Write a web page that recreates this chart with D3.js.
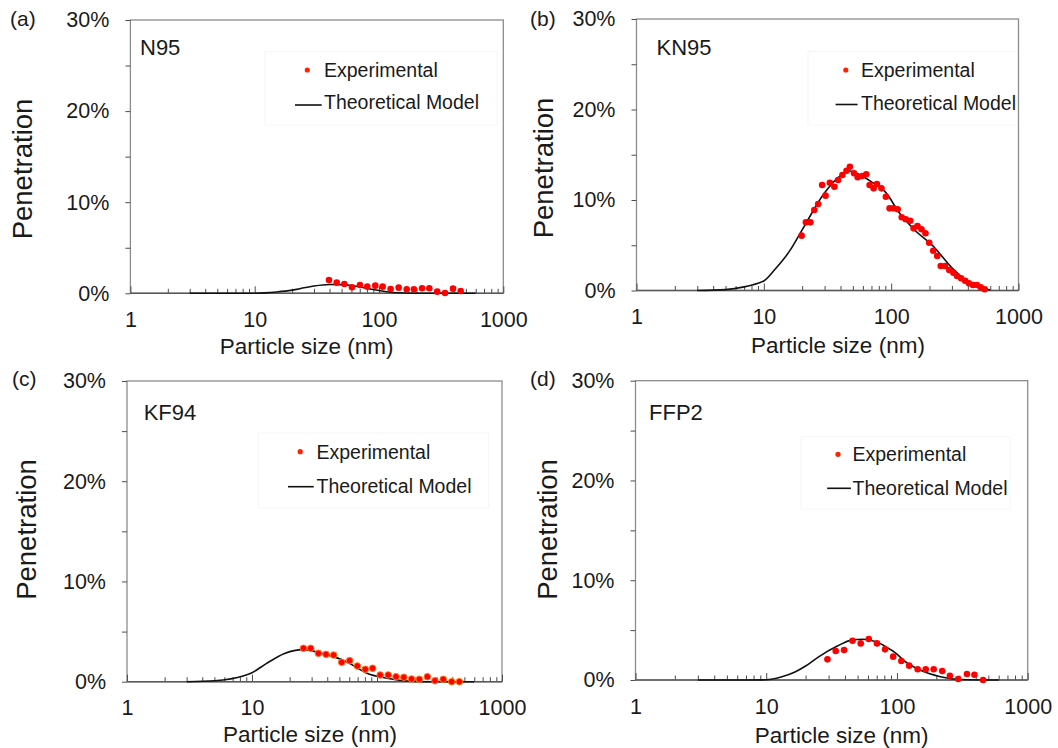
<!DOCTYPE html>
<html>
<head>
<meta charset="utf-8">
<script src="https://cdn.jsdelivr.net/npm/d3@7"></script>
<style>
  body { margin: 0; background: #fff; }
  text { font-family: "Liberation Sans", Arial, sans-serif; fill: #1a1a1a; }
</style>
</head>
<body>
<div id="chart"></div>
<script>
// ---- data ----
var panelLetters = ["(a)", "(b)", "(c)", "(d)"];
var maskNames = ["N95", "KN95", "KF94", "FFP2"];
var xTickValues = [1, 10, 100, 1000];
var xMinorValues = [2, 3, 4, 5, 6, 7, 8, 9, 20, 30, 40, 50, 60, 70, 80, 90, 200, 300, 400, 500, 600, 700, 800, 900];
var yTickValues = [0, 10, 20, 30];
var yMinorValues = [5, 15, 25];
var legendLabels = ["Experimental", "Theoretical Model"];

// N95
var n95ExpSize = [39.6, 45.7, 52.6, 60.6, 70.3, 80.5, 93.4, 107, 124, 144, 167, 191, 222, 254, 294, 340, 394, 454];
var n95ExpPen = [1.46, 1.17, 1.02, 0.66, 0.91, 0.73, 0.84, 0.73, 0.47, 0.62, 0.44, 0.44, 0.55, 0.55, 0.18, 0.04, 0.51, 0.26];
var n95ModelSize = [3, 5, 8, 10, 12, 15, 20, 25, 30, 40, 50, 60, 80, 100, 130, 200, 300, 600];
var n95ModelPen = [0, 0, 0, 0.01, 0.05, 0.15, 0.35, 0.6, 0.8, 0.97, 0.95, 0.85, 0.55, 0.3, 0.08, 0.01, 0, 0];

// KN95
var kn95ExpSize = [19.8, 21.4, 23.2, 24.9, 26.7, 28.7, 30.5, 33.0, 35.8, 38.3, 41.4, 44.6, 47.4, 51.1, 54.6, 59.1, 63.7, 67.7, 72.8, 77.4, 83.9, 90.9, 97.2, 104, 112.5, 121, 130, 141, 150, 161, 173, 186, 199, 214, 230, 245, 265, 286, 308, 329, 354, 381, 408, 439, 472, 505, 543];
var kn95ExpPen = [6.06, 7.53, 7.53, 8.90, 9.56, 11.66, 10.48, 11.91, 11.47, 12.21, 12.76, 13.24, 13.68, 12.95, 12.51, 12.65, 12.84, 11.66, 11.29, 11.77, 11.29, 10.36, 9.08, 9.08, 8.97, 8.09, 7.87, 7.71, 6.87, 7.13, 6.76, 6.32, 5.28, 4.40, 3.81, 2.71, 2.71, 2.27, 1.97, 1.60, 1.35, 1.08, 0.80, 0.61, 0.61, 0.35, 0.13];
var kn95ModelSize = [3, 5, 7, 9, 10, 12, 16, 20, 30, 40, 47, 60, 70, 90, 117, 150, 217, 300, 400, 500, 600];
var kn95ModelPen = [0, 0.1, 0.4, 0.8, 1.05, 2.2, 4.4, 6.7, 10.8, 12.7, 13.2, 12.6, 12.0, 10.9, 8.5, 6.8, 4.8, 2.5, 1.0, 0.35, 0.05];

// KF94
var kf94ExpSize = [25.8, 29.5, 34.0, 39.1, 45.0, 52.2, 60.4, 69.6, 80.6, 92.3, 106, 123, 142, 164, 189, 218, 253, 291, 339, 396, 456];
var kf94ExpPen = [3.33, 3.33, 2.83, 2.73, 2.66, 1.93, 2.10, 1.57, 1.24, 1.34, 0.67, 0.67, 0.50, 0.44, 0.27, 0.24, 0.50, 0.10, 0.24, 0, 0];
var kf94ModelSize = [3, 5, 8.5, 10, 13, 18, 26, 37, 57, 83, 120, 184, 300, 600];
var kf94ModelPen = [0, 0.1, 0.57, 0.9, 1.8, 2.8, 3.2, 2.8, 2.0, 0.85, 0.34, 0.05, 0, 0];

// FFP2
var ffp2ExpSize = [29.4, 34.0, 39.4, 45.7, 52.8, 60.9, 70.3, 81.1, 93.5, 108, 124, 144, 166, 191, 222, 254, 294, 343, 391, 456];
var ffp2ExpPen = [2.07, 2.91, 3.01, 3.94, 3.67, 4.11, 3.67, 3.07, 2.34, 1.90, 1.44, 1.07, 1.07, 1.07, 0.90, 0.43, 0.10, 0.60, 0.53, 0];
var ffp2ModelSize = [3, 7, 10, 13, 16.6, 20, 25, 35, 45, 55, 70, 83, 100, 112, 150, 215, 306, 600];
var ffp2ModelPen = [0, 0, 0.02, 0.3, 0.8, 1.4, 2.3, 3.4, 4.0, 4.08, 3.8, 3.3, 2.6, 2.0, 1.0, 0.33, 0.05, 0];

var expSizes = [n95ExpSize, kn95ExpSize, kf94ExpSize, ffp2ExpSize];
var expPens = [n95ExpPen, kn95ExpPen, kf94ExpPen, ffp2ExpPen];
var modelSizes = [n95ModelSize, kn95ModelSize, kf94ModelSize, ffp2ModelSize];
var modelPens = [n95ModelPen, kn95ModelPen, kf94ModelPen, ffp2ModelPen];

// ---- layout ----
var WIDTH = 1058, HEIGHT = 748;
var layout = [
  { l: 130.4, r: 503.3, t: 20, b: 293.3, letterX: 10, letterY: 26, nameX: 140, nameY: 55,
    yTitleX: 32, yTitleY: 169, xTitleX: 306.7, xTitleY: 354,
    dot: [307.3, 70], legX: 324, legY1: 77, legLine: [295, 321.7, 105], legY2: 109,
    box: [265, 51.7, 232, 73.3] },
  { l: 636.5, r: 1018.5, t: 19, b: 290.5, letterX: 530, letterY: 26, nameX: 656.5, nameY: 55,
    yTitleX: 553, yTitleY: 168, xTitleX: 838, xTitleY: 353,
    dot: [845.8, 70], legX: 861, legY1: 77, legLine: [835.6, 857.6, 104.5], legY2: 110,
    box: [808, 51.7, 210, 73.3] },
  { l: 127, r: 502, t: 381, b: 681.7, letterX: 12, letterY: 386, nameX: 143.7, nameY: 420,
    yTitleX: 35.5, yTitleY: 529.5, xTitleX: 310, xTitleY: 742,
    dot: [300.2, 451.7], legX: 316.5, legY1: 458.5, legLine: [288, 313.7, 486.7], legY2: 493,
    box: [258.6, 433, 230, 75] },
  { l: 635.5, r: 1027.7, t: 380.7, b: 680, letterX: 530, letterY: 386, nameX: 649, nameY: 420,
    yTitleX: 556.7, yTitleY: 529.5, xTitleX: 841.6, xTitleY: 742.5,
    dot: [838, 454.3], legX: 852.5, legY1: 461, legLine: [827.2, 850.9, 488.3], legY2: 494.5,
    box: [801, 436.7, 209, 72.3] }
];

var svg = d3.select("#chart").append("svg")
  .attr("width", WIDTH)
  .attr("height", HEIGHT);

svg.append("rect").attr("width", WIDTH).attr("height", HEIGHT).attr("fill", "#fff");

layout.forEach(function(p, i) {
  var x = d3.scaleLog().domain([1, 1000]).range([p.l, p.r]);
  var y = d3.scaleLinear().domain([0, 30]).range([p.b, p.t]);
  var g = svg.append("g").attr("class", "panel");

  // faint legend box
  g.append("rect")
    .attr("x", p.box[0]).attr("y", p.box[1])
    .attr("width", p.box[2]).attr("height", p.box[3])
    .attr("fill", "none").attr("stroke", "#f6f6f6").attr("stroke-width", 1);

  // frame
  g.append("rect")
    .attr("x", p.l).attr("y", p.t)
    .attr("width", p.r - p.l).attr("height", p.b - p.t)
    .attr("fill", "none").attr("stroke", "#8c8c8c").attr("stroke-width", 1.3);

  // y axis ticks + labels
  g.append("g")
    .attr("transform", "translate(" + p.l + ",0)")
    .call(d3.axisLeft(y).tickValues(yTickValues).tickSize(5).tickPadding(16)
      .tickFormat(function(d) { return d + "%"; }));
  g.append("g")
    .attr("transform", "translate(" + p.l + ",0)")
    .call(d3.axisLeft(y).tickValues(yMinorValues).tickSize(5).tickFormat(""));

  // x axis ticks (inward) + labels
  g.append("g")
    .attr("transform", "translate(0," + p.b + ")")
    .call(d3.axisBottom(x).tickValues(xTickValues).tickSize(-7).tickPadding(18.5)
      .tickFormat(d3.format("d")));
  g.append("g")
    .attr("transform", "translate(0," + p.b + ")")
    .call(d3.axisBottom(x).tickValues(xMinorValues).tickSize(-4.5).tickFormat(""));

  g.selectAll(".domain").remove();
  g.selectAll(".tick line").attr("stroke", "#4d4d4d").attr("stroke-width", 1);
  g.selectAll(".tick text")
    .style("font-family", "'Liberation Sans', Arial, sans-serif")
    .style("font-size", "21.5px").attr("fill", "#1a1a1a");

  // bottom axis line (darker)
  g.append("line")
    .attr("x1", p.l).attr("x2", p.r).attr("y1", p.b).attr("y2", p.b)
    .attr("stroke", "#595959").attr("stroke-width", 1.5);

  // model curve
  var model = modelSizes[i].map(function(d, k) { return [d, modelPens[i][k]]; });
  var line = d3.line()
    .x(function(d) { return x(d[0]); })
    .y(function(d) { return y(d[1]); })
    .curve(d3.curveMonotoneX);
  g.append("path")
    .datum(model)
    .attr("d", line)
    .attr("fill", "none")
    .attr("stroke", "#111")
    .attr("stroke-width", 1.6);

  // experimental points
  var pts = expSizes[i].map(function(d, k) { return [d, expPens[i][k]]; });
  g.selectAll("circle.exp")
    .data(pts)
    .enter().append("circle")
    .attr("class", "exp")
    .attr("cx", function(d) { return x(d[0]); })
    .attr("cy", function(d) { return y(d[1]); })
    .attr("r", 3.3)
    .attr("fill", "#ff0000")
    .attr("stroke", i === 2 ? "#ff7a1a" : "none")
    .attr("stroke-width", 1);

  // legend
  g.append("circle")
    .attr("cx", p.dot[0]).attr("cy", p.dot[1]).attr("r", 2.6)
    .attr("fill", "#ff2200");
  g.append("text")
    .attr("x", p.legX).attr("y", p.legY1)
    .style("font-size", "19.5px")
    .text(legendLabels[0]);
  g.append("line")
    .attr("x1", p.legLine[0]).attr("x2", p.legLine[1])
    .attr("y1", p.legLine[2]).attr("y2", p.legLine[2])
    .attr("stroke", "#111").attr("stroke-width", 1.6);
  g.append("text")
    .attr("x", p.legX).attr("y", p.legY2)
    .style("font-size", "19.5px")
    .text(legendLabels[1]);

  // mask name
  g.append("text")
    .attr("x", p.nameX).attr("y", p.nameY)
    .style("font-size", "22px")
    .text(maskNames[i]);

  // panel letter
  g.append("text")
    .attr("x", p.letterX).attr("y", p.letterY)
    .style("font-size", "21px")
    .text(panelLetters[i]);

  // axis titles
  g.append("text")
    .attr("transform", "translate(" + p.yTitleX + "," + p.yTitleY + ") rotate(-90)")
    .attr("text-anchor", "middle")
    .style("font-size", "27.5px")
    .text("Penetration");
  g.append("text")
    .attr("x", p.xTitleX).attr("y", p.xTitleY)
    .attr("text-anchor", "middle")
    .style("font-size", "22.5px")
    .text("Particle size (nm)");
});
</script>
</body>
</html>
